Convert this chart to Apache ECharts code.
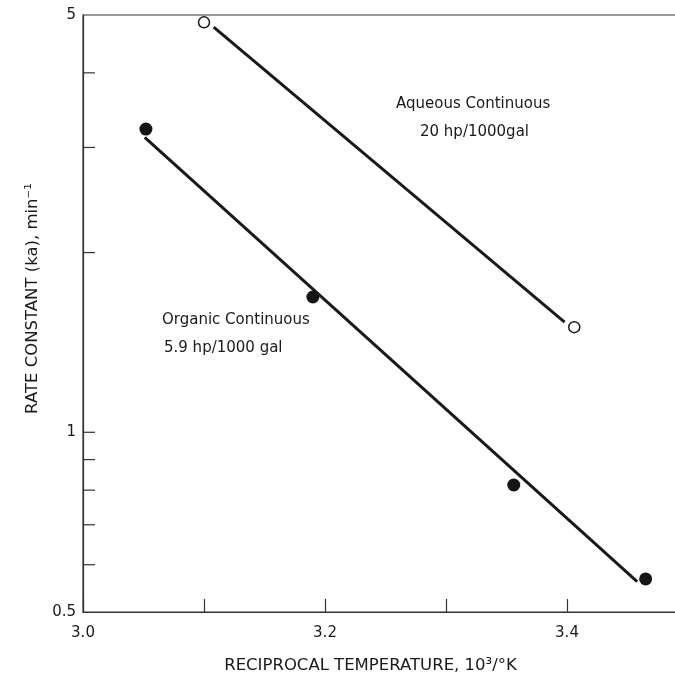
<!DOCTYPE html>
<html>
<head>
<meta charset="utf-8">
<script src="https://cdn.jsdelivr.net/npm/echarts@6/dist/echarts.min.js"></script>
<style>
html,body{margin:0;padding:0;background:#fff;}
#chart{width:675px;height:680px;}
</style>
</head>
<body>
<div id="chart"></div>
<script>
// ---- data ----
const xTickLabels = [3.0, 3.2, 3.4];
const yTickLabels = [0.5, 1, 5];
const yMinorTicks = [0.6, 0.7, 0.8, 0.9, 1, 2, 3, 4];

const aqueousX = [3.10, 3.406];
const aqueousY = [4.86, 1.50];
const aqueousFitX = [3.108, 3.398];
const aqueousFitY = [4.77, 1.53];

const organicX = [3.052, 3.19, 3.356, 3.465];
const organicY = [3.22, 1.685, 0.816, 0.568];
const organicFitX = [3.051, 3.458];
const organicFitY = [3.12, 0.562];

const pairs = (xs, ys) => xs.map((x, i) => [x, ys[i]]);
const FONT = 'DejaVu Sans';
const INK = '#1a1a1a';

const chart = echarts.init(document.getElementById('chart'), null, {renderer: 'canvas'});
chart.setOption({
  animation: false,
  backgroundColor: '#fff',
  grid: {left: 83, top: 15, width: 605, bottom: 68, outerBoundsMode: 'none',
         show: true, borderColor: '#333', borderWidth: 1.2, backgroundColor: '#fff'},
  xAxis: {
    type: 'value', min: 3.0, max: 3.5, interval: 0.1,
    axisLine: {lineStyle: {color: '#333', width: 1.2}},
    axisTick: {inside: true, length: 13, lineStyle: {color: '#333', width: 1.2}},
    splitLine: {show: false},
    axisLabel: {
      color: INK, fontFamily: FONT, fontSize: 15, margin: 14,
      showMaxLabel: false,
      formatter: v => xTickLabels.some(t => Math.abs(t - v) < 1e-6) ? v.toFixed(1) : ''
    },
    name: 'RECIPROCAL TEMPERATURE, 10³/°K',
    nameLocation: 'middle', nameGap: 45,
    nameTextStyle: {color: INK, fontFamily: FONT, fontSize: 16.5, padding: [0, 30, 0, 0]}
  },
  yAxis: {
    type: 'log', logBase: 10, min: 0.5, max: 5,
    axisLine: {lineStyle: {color: '#333', width: 1.2}},
    axisTick: {show: false},
    splitLine: {show: false},
    minorTick: {show: false},
    axisLabel: {
      color: INK, fontFamily: FONT, fontSize: 15, margin: 7,
      formatter: v => {
        const r = Math.round(v * 100) / 100;
        return yTickLabels.some(t => Math.abs(t - r) < 1e-6) ? String(r) : '';
      }
    },
    name: 'RATE CONSTANT (ka), min⁻¹',
    nameLocation: 'middle', nameGap: 40,
    nameTextStyle: {color: INK, fontFamily: FONT, fontSize: 16.5, padding: [0, 0, 0, 30]}
  },
  series: [
    {
      type: 'scatter', name: 'yticks', silent: true, clip: false,
      data: yMinorTicks.map(v => [3.0, v]),
      symbol: 'rect', symbolSize: [12, 1.2], symbolOffset: [6, 0],
      itemStyle: {color: '#333', opacity: 1}, z: 1
    },
    {
      type: 'line', name: 'Aqueous fit', data: pairs(aqueousFitX, aqueousFitY),
      showSymbol: false, lineStyle: {color: INK, width: 3}, silent: true, z: 2
    },
    {
      type: 'line', name: 'Organic fit', data: pairs(organicFitX, organicFitY),
      showSymbol: false, lineStyle: {color: INK, width: 3}, silent: true, z: 2
    },
    {
      type: 'scatter', name: 'Aqueous Continuous', data: pairs(aqueousX, aqueousY),
      symbol: 'circle', symbolSize: 11, clip: false,
      itemStyle: {color: '#fff', borderColor: INK, borderWidth: 1.5, opacity: 1}, z: 3
    },
    {
      type: 'scatter', name: 'Organic Continuous', data: pairs(organicX, organicY),
      symbol: 'circle', symbolSize: 13, clip: false,
      itemStyle: {color: '#151515', opacity: 1}, z: 3
    }
  ],
  graphic: [
    {type: 'text', left: 396, top: 97, style: {text: 'Aqueous Continuous', fill: INK, font: '15px "DejaVu Sans"'}},
    {type: 'text', left: 420, top: 125, style: {text: '20 hp/1000gal', fill: INK, font: '15px "DejaVu Sans"'}},
    {type: 'text', left: 162, top: 313, style: {text: 'Organic Continuous', fill: INK, font: '15px "DejaVu Sans"'}},
    {type: 'text', left: 164, top: 341, style: {text: '5.9 hp/1000 gal', fill: INK, font: '15px "DejaVu Sans"'}}
  ]
});
</script>
</body>
</html>
